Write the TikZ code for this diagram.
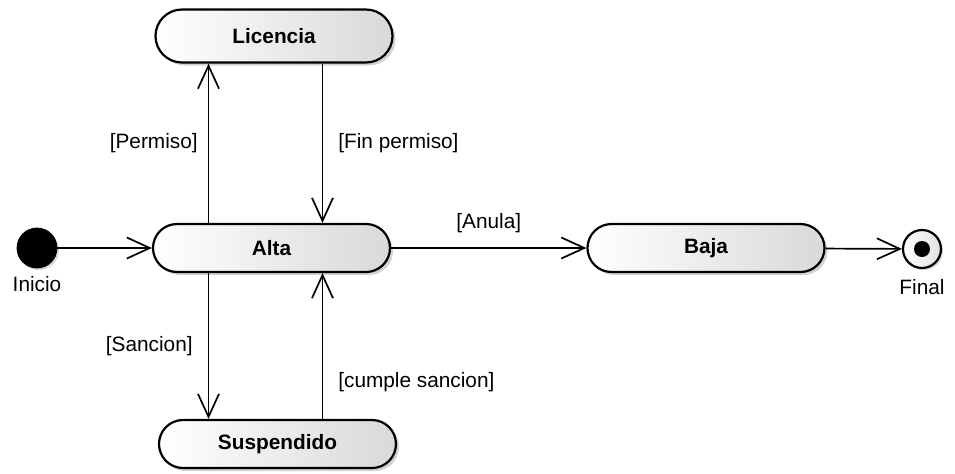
\documentclass[tikz,border=0pt]{standalone}
\usepackage{fontspec}
\setmainfont{Liberation Sans}
\usetikzlibrary{arrows.meta, shadows}

\begin{document}
\begin{tikzpicture}[x=0.5pt, y=-0.5pt, font=\fontsize{10.4}{12.5}\selectfont,
  estado/.style={draw, line width=1.1pt, rounded corners=12pt,
    minimum width=118.5pt, minimum height=24pt, inner sep=0pt,
    left color=white, right color=black!15, font=\fontsize{10.4}{12.5}\selectfont\bfseries,
    drop shadow={shadow xshift=1.5pt, shadow yshift=-1.5pt, fill=black!35, opacity=0.5}},
  trans/.style={line width=0.85pt, -{Straight Barb[length=11.5pt, width=10.5pt, line width=0.85pt]}},
  etiq/.style={inner sep=5pt}]

  \useasboundingbox (0,0) rectangle (955,473);

  % --- 1. estados ---
  \node[estado, minimum height=26.5pt, rounded corners=13.25pt] (lic) at (274,36) {Licencia};
  \node[estado] (alta) at (271.5,248) {Alta};
  \node[estado] (baja) at (706,248) {Baja};
  \node[estado] (susp) at (277.5,444) {Suspendido};

  % --- 2. pseudoestados inicial y final ---
  \node[circle, fill=black, draw=black, minimum size=20pt, inner sep=0pt,
    drop shadow={shadow xshift=1pt, shadow yshift=-1pt, fill=black!30, opacity=0.5}] (ini) at (37,248) {};
  \node[anchor=north, inner sep=0pt] (inilab) at ([yshift=-4pt]ini.south) {Inicio};

  \node[circle, draw=black, line width=1.1pt, minimum size=19pt, inner sep=0pt,
    left color=white, right color=black!12,
    drop shadow={shadow xshift=1pt, shadow yshift=-1pt, fill=black!30, opacity=0.5}] (fin) at (922,249) {};
  \fill[black] (fin.center) circle (4pt);
  \node[anchor=north, inner sep=0pt] (finlab) at ([yshift=-5pt]fin.south) {Final};

  % --- 3. transiciones ---
  \coordinate (izq) at ([xshift=-31.5pt]alta.north);
  \coordinate (der) at ([xshift=25.5pt]alta.north);
  \coordinate (izqb) at ([xshift=-31.5pt]alta.south);
  \coordinate (derb) at ([xshift=25.5pt]alta.south);

  \draw[trans] (ini) -- (alta);
  \draw[trans] (izq) -- (izq |- lic.south) node[midway, left, etiq] {[Permiso]};
  \draw[trans] (der |- lic.south) -- (der) node[midway, right, etiq, xshift=2.5pt] {[Fin permiso]};
  \draw[trans] (izqb) -- (izqb |- susp.north) node[midway, left, etiq, xshift=-2.5pt] {[Sancion]};
  \draw[trans] (derb |- susp.north) -- (derb) node[pos=0.25, right, etiq, xshift=2.5pt] {[cumple sancion]};
  \draw[trans] (alta) -- (baja) node[midway, above, etiq, yshift=2pt] {[Anula]};
  \draw[trans] (baja) -- (fin);

\end{tikzpicture}
\end{document}
